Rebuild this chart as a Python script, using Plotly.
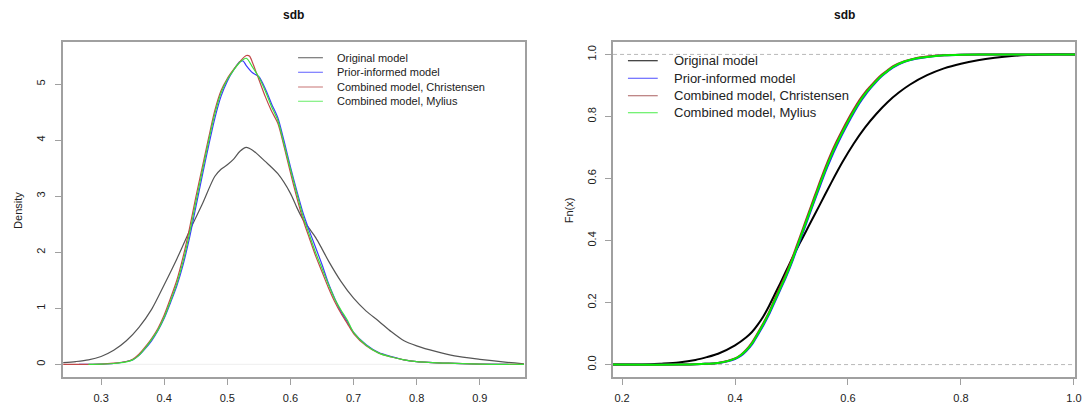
import plotly.graph_objects as go

# ---------------- data ----------------
series_names = ["Original model", "Prior-informed model",
                "Combined model, Christensen", "Combined model, Mylius"]

# Kernel density estimates of sdb (left panel)
dens_orig_x = [0.24, 0.26, 0.28, 0.30, 0.32, 0.34, 0.36, 0.38, 0.40, 0.42, 0.44, 0.46,
               0.48, 0.49, 0.50, 0.51, 0.52, 0.53, 0.54, 0.56, 0.58, 0.60, 0.61, 0.62,
               0.63, 0.64, 0.65, 0.66, 0.68, 0.70, 0.72, 0.74, 0.76, 0.78, 0.80, 0.83,
               0.86, 0.90, 0.94, 0.97]
dens_orig_y = [0.03, 0.05, 0.08, 0.14, 0.25, 0.42, 0.66, 0.98, 1.42, 1.88, 2.38, 2.85,
               3.35, 3.48, 3.56, 3.66, 3.80, 3.87, 3.82, 3.62, 3.40, 3.05, 2.80, 2.58,
               2.42, 2.26, 2.06, 1.85, 1.48, 1.18, 0.95, 0.77, 0.58, 0.42, 0.33, 0.23,
               0.15, 0.09, 0.04, 0.01]

dens_prior_x = [0.265, 0.30, 0.32, 0.34, 0.35, 0.36, 0.37, 0.38, 0.39, 0.40, 0.41, 0.42,
                0.43, 0.44, 0.45, 0.46, 0.47, 0.48, 0.49, 0.50, 0.51, 0.52, 0.525, 0.53,
                0.54, 0.55, 0.56, 0.57, 0.58, 0.59, 0.60, 0.61, 0.62, 0.63, 0.64, 0.65,
                0.66, 0.67, 0.68, 0.69, 0.70, 0.72, 0.74, 0.76, 0.78, 0.80, 0.85, 0.90,
                0.945]
dens_prior_y = [0.0, 0.004, 0.015, 0.05, 0.08, 0.16, 0.28, 0.42, 0.60, 0.82, 1.10, 1.40,
                1.78, 2.25, 2.80, 3.35, 3.88, 4.38, 4.78, 5.05, 5.25, 5.40, 5.41, 5.33,
                5.20, 5.13, 4.92, 4.65, 4.40, 3.98, 3.52, 3.10, 2.70, 2.38, 2.08, 1.78,
                1.45, 1.18, 0.94, 0.76, 0.57, 0.35, 0.21, 0.14, 0.08, 0.05, 0.02, 0.005,
                0.0]

dens_chris_x = [0.24, 0.30, 0.32, 0.34, 0.35, 0.36, 0.37, 0.38, 0.39, 0.40, 0.41, 0.42,
                0.43, 0.44, 0.45, 0.46, 0.47, 0.48, 0.49, 0.50, 0.51, 0.52, 0.53, 0.535,
                0.54, 0.55, 0.56, 0.57, 0.58, 0.59, 0.60, 0.61, 0.62, 0.63, 0.64, 0.65,
                0.66, 0.67, 0.68, 0.69, 0.70, 0.72, 0.74, 0.76, 0.78, 0.80, 0.85, 0.90,
                0.97]
dens_chris_y = [0.0, 0.005, 0.02, 0.05, 0.09, 0.18, 0.31, 0.46, 0.64, 0.88, 1.18, 1.50,
                1.92, 2.42, 2.98, 3.50, 4.02, 4.52, 4.88, 5.10, 5.26, 5.40, 5.51, 5.50,
                5.38, 5.08, 4.78, 4.52, 4.30, 3.88, 3.42, 2.98, 2.58, 2.25, 1.93, 1.65,
                1.37, 1.12, 0.91, 0.73, 0.55, 0.33, 0.20, 0.13, 0.08, 0.05, 0.02, 0.005,
                0.0]

dens_mylius_x = [0.28, 0.30, 0.32, 0.34, 0.35, 0.36, 0.37, 0.38, 0.39, 0.40, 0.41, 0.42,
                 0.43, 0.44, 0.45, 0.46, 0.47, 0.48, 0.49, 0.50, 0.51, 0.52, 0.53, 0.54,
                 0.55, 0.56, 0.57, 0.58, 0.59, 0.60, 0.61, 0.62, 0.63, 0.64, 0.65, 0.66,
                 0.67, 0.68, 0.69, 0.70, 0.72, 0.74, 0.76, 0.78, 0.80, 0.85, 0.90, 0.97]
dens_mylius_y = [0.0, 0.003, 0.015, 0.045, 0.08, 0.16, 0.29, 0.44, 0.61, 0.84, 1.13, 1.44,
                 1.84, 2.33, 2.89, 3.43, 3.96, 4.46, 4.84, 5.08, 5.25, 5.39, 5.46, 5.30,
                 5.12, 4.88, 4.60, 4.35, 3.92, 3.48, 3.05, 2.64, 2.31, 1.99, 1.71, 1.43,
                 1.17, 0.97, 0.79, 0.57, 0.34, 0.20, 0.13, 0.08, 0.05, 0.02, 0.005, 0.0]

# Empirical cumulative distributions of sdb (right panel)
ecdf_orig_x = [0.184, 0.25, 0.27, 0.30, 0.33, 0.35, 0.37, 0.40, 0.42, 0.43, 0.44, 0.45,
               0.46, 0.47, 0.48, 0.49, 0.50, 0.51, 0.52, 0.53, 0.55, 0.57, 0.59, 0.61,
               0.63, 0.65, 0.67, 0.69, 0.71, 0.74, 0.77, 0.80, 0.83, 0.86, 0.89, 0.92,
               0.95, 1.002]
ecdf_orig_y = [0.0, 0.001, 0.003, 0.007, 0.015, 0.024, 0.035, 0.062, 0.088, 0.105, 0.128,
               0.155, 0.188, 0.225, 0.262, 0.300, 0.338, 0.375, 0.410, 0.445, 0.515,
               0.585, 0.652, 0.712, 0.764, 0.808, 0.846, 0.877, 0.903, 0.933, 0.955,
               0.970, 0.981, 0.989, 0.995, 0.998, 1.0, 1.0]

ecdf_prior_x = [0.184, 0.30, 0.34, 0.37, 0.40, 0.41, 0.42, 0.43, 0.44, 0.45, 0.46, 0.47,
                0.48, 0.49, 0.50, 0.51, 0.52, 0.53, 0.54, 0.55, 0.56, 0.57, 0.58, 0.59,
                0.60, 0.61, 0.62, 0.63, 0.64, 0.65, 0.66, 0.67, 0.68, 0.70, 0.72, 0.74,
                0.77, 0.80, 0.85, 1.002]
ecdf_prior_y = [0.0, 0.0, 0.002, 0.005, 0.018, 0.028, 0.044, 0.065, 0.095, 0.126, 0.161,
                0.201, 0.241, 0.281, 0.326, 0.376, 0.425, 0.475, 0.525, 0.574, 0.622,
                0.666, 0.706, 0.743, 0.778, 0.811, 0.842, 0.868, 0.891, 0.912, 0.930,
                0.945, 0.958, 0.976, 0.986, 0.992, 0.997, 0.999, 1.0, 1.0]

ecdf_chris_x = [0.184, 0.30, 0.34, 0.37, 0.40, 0.41, 0.42, 0.43, 0.44, 0.45, 0.46, 0.47,
                0.48, 0.49, 0.50, 0.51, 0.52, 0.53, 0.54, 0.55, 0.56, 0.57, 0.58, 0.59,
                0.60, 0.61, 0.62, 0.63, 0.64, 0.65, 0.66, 0.67, 0.68, 0.70, 0.72, 0.74,
                0.77, 0.80, 0.85, 1.002]
ecdf_chris_y = [0.0, 0.0, 0.002, 0.005, 0.020, 0.031, 0.048, 0.071, 0.101, 0.133, 0.168,
                0.210, 0.251, 0.291, 0.337, 0.387, 0.437, 0.488, 0.538, 0.588, 0.636,
                0.680, 0.720, 0.756, 0.790, 0.822, 0.852, 0.877, 0.898, 0.918, 0.935,
                0.949, 0.962, 0.978, 0.988, 0.993, 0.997, 0.999, 1.0, 1.0]

ecdf_mylius_x = [0.184, 0.30, 0.34, 0.37, 0.40, 0.41, 0.42, 0.43, 0.44, 0.45, 0.46, 0.47,
                 0.48, 0.49, 0.50, 0.51, 0.52, 0.53, 0.54, 0.55, 0.56, 0.57, 0.58, 0.59,
                 0.60, 0.61, 0.62, 0.63, 0.64, 0.65, 0.66, 0.67, 0.68, 0.70, 0.72, 0.74,
                 0.77, 0.80, 0.85, 1.002]
ecdf_mylius_y = [0.0, 0.0, 0.002, 0.005, 0.019, 0.030, 0.046, 0.068, 0.098, 0.130, 0.165,
                 0.205, 0.245, 0.285, 0.330, 0.380, 0.430, 0.480, 0.530, 0.580, 0.628,
                 0.672, 0.712, 0.748, 0.783, 0.816, 0.846, 0.872, 0.894, 0.914, 0.932,
                 0.946, 0.960, 0.977, 0.987, 0.992, 0.997, 0.999, 1.0, 1.0]

left_xticks = [0.3, 0.4, 0.5, 0.6, 0.7, 0.8, 0.9]
left_yticks = [0, 1, 2, 3, 4, 5]
right_xticks = [0.2, 0.4, 0.6, 0.8, 1.0]
right_yticks = [0.0, 0.2, 0.4, 0.6, 0.8, 1.0]

# ---------------- styling ----------------
W, H = 1089, 407
FONT = "Liberation Sans, Arial, sans-serif"
left_colors = ["#555555", "#3a3aff", "#c04848", "#3ae03a"]
right_colors = ["#000000", "#1a1aff", "#a52a2a", "#00ee00"]
left_key_colors = ["#777777", "#7a7aff", "#d08a8a", "#80f080"]
right_key_colors = ["#333333", "#6a6aff", "#b87a7a", "#66f066"]
AXIS_GREY = "#a0a0a0"


def fx(p):
    return p / W


def fy(p):
    return 1 - p / H


fig = go.Figure()

dens_sets = [(dens_orig_x, dens_orig_y), (dens_prior_x, dens_prior_y),
             (dens_chris_x, dens_chris_y), (dens_mylius_x, dens_mylius_y)]
for (xs, ys), name, col in zip(dens_sets, series_names, left_colors):
    fig.add_trace(go.Scatter(x=xs, y=ys, mode="lines", name=name, showlegend=False,
                             line=dict(color=col, width=1.2, shape="spline", smoothing=0.8),
                             xaxis="x", yaxis="y", hoverinfo="skip"))

ecdf_sets = [(ecdf_orig_x, ecdf_orig_y), (ecdf_prior_x, ecdf_prior_y),
             (ecdf_chris_x, ecdf_chris_y), (ecdf_mylius_x, ecdf_mylius_y)]
for (xs, ys), name, col in zip(ecdf_sets, series_names, right_colors):
    fig.add_trace(go.Scatter(x=xs, y=ys, mode="lines", name=name, showlegend=False,
                             line=dict(color=col, width=2, shape="spline", smoothing=0.8),
                             xaxis="x2", yaxis="y2", hoverinfo="skip"))

axis_common = dict(showline=True, mirror=True, linecolor=AXIS_GREY, linewidth=1.5,
                   ticks="outside", ticklen=6, tickcolor=AXIS_GREY, tickwidth=1,
                   showgrid=False, zeroline=False,
                   tickfont=dict(family=FONT, size=11, color="#222222"))

plot_top, plot_bottom = 42, 377
ydom = [fy(plot_bottom), fy(plot_top)]

fig.update_layout(
    width=W, height=H,
    margin=dict(l=0, r=0, t=0, b=0),
    paper_bgcolor="white", plot_bgcolor="white",
    xaxis=dict(domain=[fx(63), fx(528)], range=[0.239, 0.971], tickvals=left_xticks,
               ticktext=[f"{v:.1f}" for v in left_xticks], anchor="y",
               ticklabelstandoff=4, **axis_common),
    yaxis=dict(domain=ydom, range=[-0.226, 5.75], tickvals=left_yticks,
               ticktext=[str(v) for v in left_yticks], anchor="x", tickangle=-90,
               ticklabelstandoff=5, **axis_common),
    xaxis2=dict(domain=[fx(617), fx(1082)], range=[0.184, 1.002], tickvals=right_xticks,
                ticktext=[f"{v:.1f}" for v in right_xticks], anchor="y2",
                ticklabelstandoff=4, **axis_common),
    yaxis2=dict(domain=ydom, range=[-0.04, 1.04], tickvals=right_yticks,
                ticktext=[f"{v:.1f}" for v in right_yticks], anchor="x2", tickangle=-90,
                ticklabelstandoff=5, **axis_common),
    showlegend=False,
)

shapes = []
# faint zero line of the density plot
shapes.append(dict(type="line", xref="x domain", yref="y", x0=0, x1=1, y0=0, y1=0,
                   line=dict(color="#eeeeee", width=1), layer="below"))
# dashed reference lines at 0 and 1 of the ECDF plot
for h in (0, 1):
    shapes.append(dict(type="line", xref="x2 domain", yref="y2", x0=0, x1=1, y0=h, y1=h,
                       line=dict(color="#b8b8b8", width=1, dash="4px,3px"), layer="below"))

annotations = []
# panel titles
for cx in ((63 + 528) / 2, (617 + 1082) / 2):
    annotations.append(dict(text="<b>sdb</b>", x=fx(cx), y=fy(15), xref="paper",
                            yref="paper", showarrow=False, xanchor="center",
                            yanchor="middle",
                            font=dict(family=FONT, size=12, color="#111111")))
# y-axis titles
annotations.append(dict(text="Density", x=fx(18), y=fy(210), xref="paper", yref="paper",
                        showarrow=False, textangle=-90, xanchor="center", yanchor="middle",
                        font=dict(family=FONT, size=11, color="#222222")))
annotations.append(dict(text="Fn(x)", x=fx(573), y=fy(210), xref="paper", yref="paper",
                        showarrow=False, textangle=-90, xanchor="center", yanchor="middle",
                        font=dict(family=FONT, size=11, color="#222222")))

# legends drawn in-panel, without a frame
legend_specs = [
    dict(x0=300, x1=325, tx=337, rows=[57.7, 72.3, 87.0, 101.3], size=11,
         colors=left_key_colors),
    dict(x0=632, x1=662, tx=676, rows=[60.7, 78.3, 95.7, 112.7], size=13,
         colors=right_key_colors),
]
for spec in legend_specs:
    for name, row, col in zip(series_names, spec["rows"], spec["colors"]):
        shapes.append(dict(type="line", xref="paper", yref="paper",
                           x0=fx(spec["x0"]), x1=fx(spec["x1"]), y0=fy(row), y1=fy(row),
                           line=dict(color=col, width=1.2)))
        annotations.append(dict(text=name, x=fx(spec["tx"]), y=fy(row), xref="paper",
                                yref="paper", showarrow=False, xanchor="left",
                                yanchor="middle",
                                font=dict(family=FONT, size=spec["size"],
                                          color="#222222")))

fig.update_layout(shapes=shapes, annotations=annotations)
fig.write_html("out.html")
